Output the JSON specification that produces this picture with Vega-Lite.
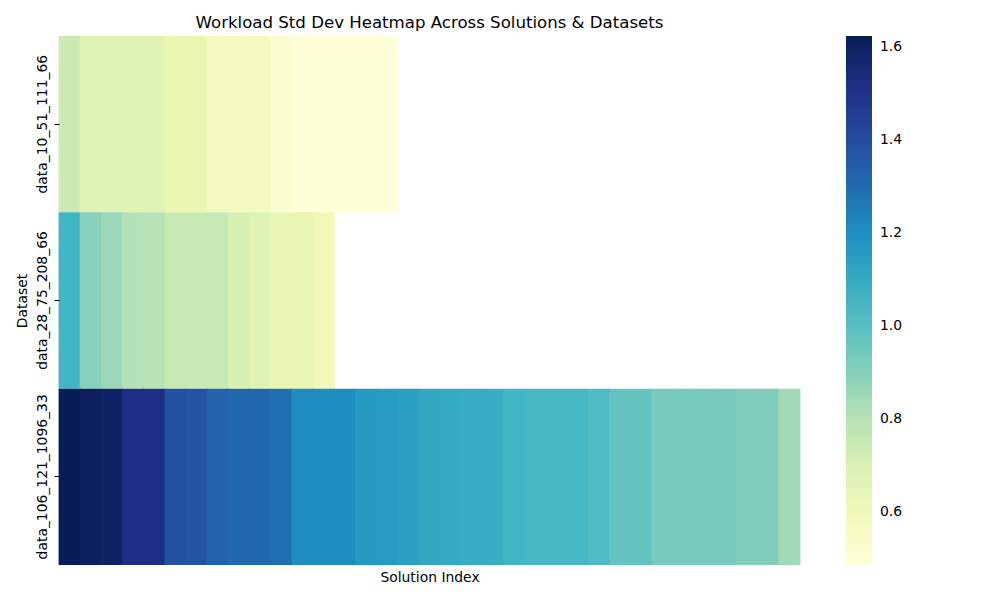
{
  "$schema": "https://vega.github.io/schema/vega-lite/v6.json",
  "width": 741,
  "height": 529,
  "autosize": {"type": "none"},
  "padding": {"left": 59, "top": 36, "right": 200, "bottom": 35},
  "background": "white",
  "title": {"text": "Workload Std Dev Heatmap Across Solutions & Datasets", "font": "DejaVu Sans", "fontSize": 16.6, "fontWeight": "normal", "color": "#000000", "anchor": "middle", "offset": 4},
  "config": {"view": {"stroke": null}, "font": "DejaVu Sans"},
  "data": {"values": [
    {"dataset": "data_10_51_111_66", "idx": 0, "std": 0.75},
    {"dataset": "data_10_51_111_66", "idx": 1, "std": 0.677},
    {"dataset": "data_10_51_111_66", "idx": 2, "std": 0.677},
    {"dataset": "data_10_51_111_66", "idx": 3, "std": 0.677},
    {"dataset": "data_10_51_111_66", "idx": 4, "std": 0.677},
    {"dataset": "data_10_51_111_66", "idx": 5, "std": 0.64},
    {"dataset": "data_10_51_111_66", "idx": 6, "std": 0.64},
    {"dataset": "data_10_51_111_66", "idx": 7, "std": 0.586},
    {"dataset": "data_10_51_111_66", "idx": 8, "std": 0.586},
    {"dataset": "data_10_51_111_66", "idx": 9, "std": 0.586},
    {"dataset": "data_10_51_111_66", "idx": 10, "std": 0.529},
    {"dataset": "data_10_51_111_66", "idx": 11, "std": 0.489},
    {"dataset": "data_10_51_111_66", "idx": 12, "std": 0.489},
    {"dataset": "data_10_51_111_66", "idx": 13, "std": 0.489},
    {"dataset": "data_10_51_111_66", "idx": 14, "std": 0.489},
    {"dataset": "data_10_51_111_66", "idx": 15, "std": 0.486},
    {"dataset": "data_28_75_208_66", "idx": 0, "std": 1.058},
    {"dataset": "data_28_75_208_66", "idx": 1, "std": 0.896},
    {"dataset": "data_28_75_208_66", "idx": 2, "std": 0.857},
    {"dataset": "data_28_75_208_66", "idx": 3, "std": 0.808},
    {"dataset": "data_28_75_208_66", "idx": 4, "std": 0.802},
    {"dataset": "data_28_75_208_66", "idx": 5, "std": 0.771},
    {"dataset": "data_28_75_208_66", "idx": 6, "std": 0.771},
    {"dataset": "data_28_75_208_66", "idx": 7, "std": 0.771},
    {"dataset": "data_28_75_208_66", "idx": 8, "std": 0.704},
    {"dataset": "data_28_75_208_66", "idx": 9, "std": 0.68},
    {"dataset": "data_28_75_208_66", "idx": 10, "std": 0.647},
    {"dataset": "data_28_75_208_66", "idx": 11, "std": 0.647},
    {"dataset": "data_28_75_208_66", "idx": 12, "std": 0.6},
    {"dataset": "data_106_121_1096_33", "idx": 0, "std": 1.624},
    {"dataset": "data_106_121_1096_33", "idx": 1, "std": 1.604},
    {"dataset": "data_106_121_1096_33", "idx": 2, "std": 1.59},
    {"dataset": "data_106_121_1096_33", "idx": 3, "std": 1.516},
    {"dataset": "data_106_121_1096_33", "idx": 4, "std": 1.511},
    {"dataset": "data_106_121_1096_33", "idx": 5, "std": 1.383},
    {"dataset": "data_106_121_1096_33", "idx": 6, "std": 1.373},
    {"dataset": "data_106_121_1096_33", "idx": 7, "std": 1.328},
    {"dataset": "data_106_121_1096_33", "idx": 8, "std": 1.311},
    {"dataset": "data_106_121_1096_33", "idx": 9, "std": 1.311},
    {"dataset": "data_106_121_1096_33", "idx": 10, "std": 1.289},
    {"dataset": "data_106_121_1096_33", "idx": 11, "std": 1.211},
    {"dataset": "data_106_121_1096_33", "idx": 12, "std": 1.211},
    {"dataset": "data_106_121_1096_33", "idx": 13, "std": 1.211},
    {"dataset": "data_106_121_1096_33", "idx": 14, "std": 1.168},
    {"dataset": "data_106_121_1096_33", "idx": 15, "std": 1.157},
    {"dataset": "data_106_121_1096_33", "idx": 16, "std": 1.14},
    {"dataset": "data_106_121_1096_33", "idx": 17, "std": 1.112},
    {"dataset": "data_106_121_1096_33", "idx": 18, "std": 1.101},
    {"dataset": "data_106_121_1096_33", "idx": 19, "std": 1.095},
    {"dataset": "data_106_121_1096_33", "idx": 20, "std": 1.088},
    {"dataset": "data_106_121_1096_33", "idx": 21, "std": 1.055},
    {"dataset": "data_106_121_1096_33", "idx": 22, "std": 1.043},
    {"dataset": "data_106_121_1096_33", "idx": 23, "std": 1.043},
    {"dataset": "data_106_121_1096_33", "idx": 24, "std": 1.043},
    {"dataset": "data_106_121_1096_33", "idx": 25, "std": 1.021},
    {"dataset": "data_106_121_1096_33", "idx": 26, "std": 0.976},
    {"dataset": "data_106_121_1096_33", "idx": 27, "std": 0.976},
    {"dataset": "data_106_121_1096_33", "idx": 28, "std": 0.93},
    {"dataset": "data_106_121_1096_33", "idx": 29, "std": 0.93},
    {"dataset": "data_106_121_1096_33", "idx": 30, "std": 0.93},
    {"dataset": "data_106_121_1096_33", "idx": 31, "std": 0.93},
    {"dataset": "data_106_121_1096_33", "idx": 32, "std": 0.911},
    {"dataset": "data_106_121_1096_33", "idx": 33, "std": 0.911},
    {"dataset": "data_106_121_1096_33", "idx": 34, "std": 0.846}
  ]},
  "mark": {"type": "rect", "strokeWidth": 0, "width": {"band": 1.04}},
  "encoding": {
    "x": {
      "field": "idx", "type": "ordinal",
      "scale": {"domain": [0,1,2,3,4,5,6,7,8,9,10,11,12,13,14,15,16,17,18,19,20,21,22,23,24,25,26,27,28,29,30,31,32,33,34], "paddingInner": 0, "paddingOuter": 0},
      "axis": {"title": "Solution Index", "labels": false, "ticks": false, "domain": false, "grid": false, "titleFont": "DejaVu Sans", "titleFontSize": 13.9, "titleFontWeight": "normal", "titleColor": "#000000", "titlePadding": 5}
    },
    "y": {
      "field": "dataset", "type": "nominal",
      "sort": ["data_10_51_111_66", "data_28_75_208_66", "data_106_121_1096_33"],
      "scale": {"paddingInner": 0, "paddingOuter": 0},
      "axis": {"title": "Dataset", "labelAngle": -90, "labelAlign": "center", "labelBaseline": "bottom", "labelFont": "DejaVu Sans", "labelFontSize": 13.9, "labelColor": "#000000", "labelPadding": 5, "ticks": true, "tickSize": 5, "tickColor": "#000000", "domain": false, "grid": false, "titleFont": "DejaVu Sans", "titleFontSize": 13.9, "titleFontWeight": "normal", "titleColor": "#000000", "titlePadding": 6}
    },
    "color": {
      "field": "std", "type": "quantitative",
      "scale": {"type": "linear", "domain": [0.486, 0.62825, 0.7705, 0.91275, 1.055, 1.19725, 1.3395, 1.48175, 1.624], "range": ["#ffffd9", "#edf8b1", "#c7e9b4", "#7fcdbb", "#41b6c4", "#1d91c0", "#225ea8", "#253494", "#081d58"], "interpolate": "rgb"},
      "legend": {"type": "gradient", "title": null, "orient": "none", "legendX": 787, "legendY": 0, "direction": "vertical", "gradientLength": 529, "gradientThickness": 26, "gradientStrokeWidth": 0, "values": [0.6, 0.8, 1.0, 1.2, 1.4, 1.6], "format": ".1f", "labelFont": "DejaVu Sans", "labelFontSize": 13.9, "labelColor": "#000000", "labelOffset": 8, "labelOverlap": false}
    }
  }
}
